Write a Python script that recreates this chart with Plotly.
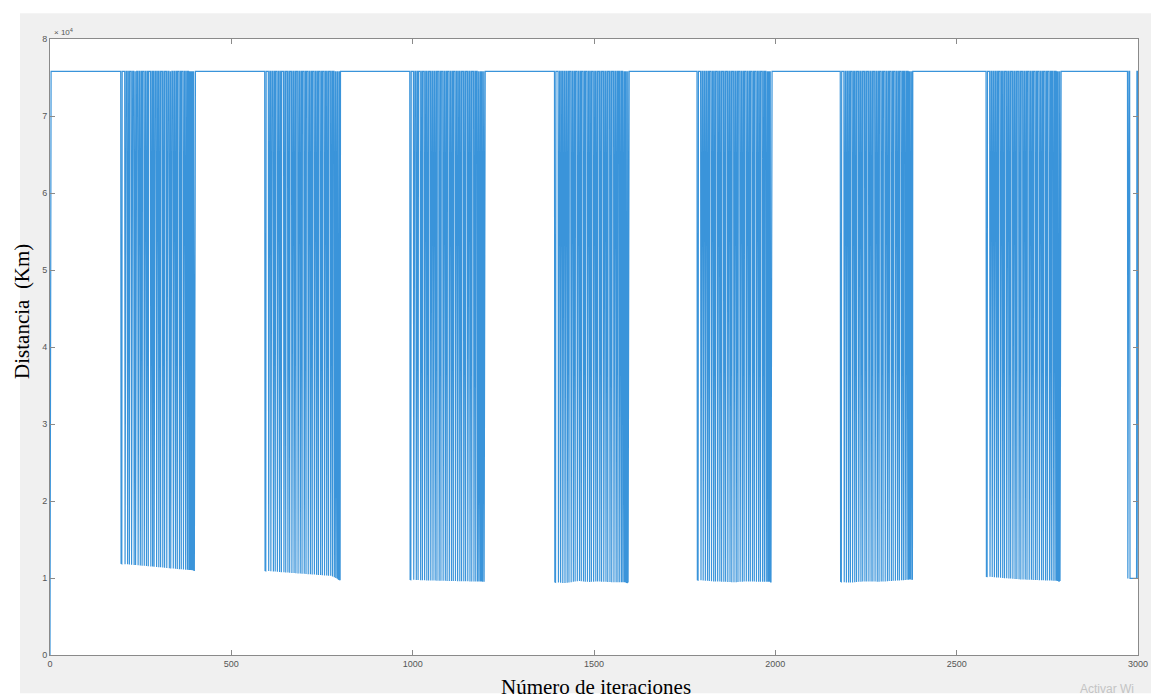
import plotly.graph_objects as go

# ---------------- data ----------------
n_iter = 3000
base_value = 75800          # distance plateau (Km)
start_value = 0             # value at iteration 0

b1_x = [196, 197, 198, 207, 214, 219, 225, 232, 236, 243, 249, 254, 260, 266, 271, 278, 283, 287, 294, 300, 305,
        311, 316, 322, 329, 333, 340, 346, 351, 357, 362, 368, 374, 379, 383, 386, 389, 392, 395, 397, 398]
b1_y = [11900, 11900, 11850, 11800, 11780, 11750, 11720, 11700, 11680, 11650, 11620, 11600, 11580, 11560, 11540,
        11500, 11480, 11460, 11420, 11400, 11380, 11350, 11320, 11300, 11280, 11250, 11230, 11200, 11180, 11150,
        11130, 11100, 11080, 11060, 11050, 11040, 11030, 11020, 11010, 11000, 11000]

b2_x = [593, 594, 595, 603, 609, 616, 621, 627, 633, 638, 645, 650, 656, 661, 667, 673, 678, 684, 690, 695, 701,
        706, 712, 718, 723, 729, 735, 740, 746, 751, 757, 763, 768, 774, 779, 784, 788, 792, 795, 797, 799, 800]
b2_y = [10950, 10950, 10920, 10900, 10880, 10850, 10830, 10800, 10780, 10760, 10740, 10720, 10700, 10680, 10660,
        10640, 10620, 10600, 10580, 10560, 10540, 10520, 10500, 10480, 10460, 10440, 10420, 10400, 10380, 10360,
        10340, 10320, 10300, 10280, 10200, 10100, 10000, 9900, 9850, 9800, 9800, 9800]

b3_x = [993, 994, 995, 1003, 1010, 1015, 1022, 1027, 1033, 1039, 1044, 1050, 1056, 1062, 1067, 1073, 1078, 1084,
        1090, 1095, 1101, 1107, 1112, 1118, 1124, 1130, 1135, 1141, 1146, 1152, 1158, 1163, 1169, 1174, 1179, 1183,
        1187, 1190, 1193, 1195, 1197]
b3_y = [9800, 9800, 9780, 9760, 9750, 9740, 9720, 9700, 9700, 9690, 9680, 9680, 9670, 9660, 9650, 9650, 9640,
        9640, 9630, 9620, 9620, 9610, 9600, 9600, 9590, 9590, 9580, 9580, 9570, 9570, 9560, 9560, 9550, 9550, 9540,
        9540, 9530, 9530, 9520, 9520, 9520]

b4_x = [1392, 1393, 1394, 1402, 1408, 1414, 1420, 1426, 1431, 1437, 1443, 1448, 1454, 1460, 1465, 1471, 1476, 1482,
        1488, 1493, 1499, 1505, 1510, 1516, 1521, 1527, 1533, 1538, 1544, 1549, 1555, 1561, 1566, 1571, 1576, 1580,
        1584, 1587, 1590, 1592, 1594]
b4_y = [9500, 9500, 9450, 9400, 9380, 9350, 9350, 9380, 9400, 9450, 9500, 9550, 9580, 9600, 9580, 9550, 9520,
        9500, 9480, 9500, 9520, 9550, 9560, 9540, 9520, 9500, 9500, 9480, 9470, 9460, 9460, 9450, 9450, 9450, 9440,
        9440, 9440, 9430, 9430, 9420, 9420]

b5_x = [1785, 1786, 1787, 1795, 1801, 1807, 1813, 1818, 1824, 1830, 1835, 1841, 1847, 1852, 1858, 1863, 1869, 1875,
        1880, 1886, 1892, 1897, 1903, 1909, 1914, 1920, 1926, 1931, 1937, 1942, 1948, 1954, 1959, 1965, 1970, 1975,
        1979, 1982, 1985, 1987, 1988]
b5_y = [9750, 9750, 9720, 9700, 9680, 9650, 9630, 9600, 9580, 9560, 9550, 9540, 9530, 9520, 9510, 9500, 9480,
        9470, 9460, 9450, 9460, 9480, 9500, 9520, 9540, 9550, 9560, 9550, 9540, 9530, 9520, 9520, 9510, 9510, 9500,
        9500, 9500, 9500, 9500, 9500, 9500]

b6_x = [2180, 2181, 2182, 2190, 2196, 2202, 2207, 2213, 2219, 2224, 2230, 2236, 2241, 2247, 2252, 2258, 2264, 2269,
        2275, 2281, 2286, 2292, 2297, 2303, 2309, 2314, 2320, 2325, 2331, 2337, 2342, 2348, 2353, 2358, 2363, 2367,
        2370, 2373, 2375, 2377, 2378]
b6_y = [9550, 9550, 9500, 9450, 9420, 9400, 9400, 9420, 9450, 9480, 9500, 9520, 9540, 9550, 9560, 9560, 9550,
        9540, 9530, 9520, 9520, 9530, 9540, 9560, 9580, 9600, 9620, 9640, 9650, 9660, 9680, 9700, 9720, 9740, 9760,
        9780, 9800, 9820, 9830, 9840, 9850]

b7_x = [2582, 2583, 2584, 2592, 2598, 2604, 2610, 2615, 2621, 2627, 2632, 2638, 2644, 2649, 2655, 2661, 2666, 2672,
        2677, 2683, 2689, 2694, 2700, 2706, 2711, 2717, 2722, 2728, 2734, 2739, 2745, 2750, 2756, 2761, 2766, 2771,
        2775, 2778, 2781, 2783, 2785]
b7_y = [10200, 10200, 10180, 10150, 10120, 10100, 10080, 10050, 10030, 10000, 9980, 9960, 9940, 9920, 9900, 9880,
        9860, 9840, 9820, 9800, 9790, 9780, 9770, 9760, 9750, 9740, 9730, 9720, 9710, 9700, 9690, 9680, 9670, 9660,
        9650, 9640, 9630, 9620, 9610, 9600, 9600]

b8_x = [2972, 2978, 2979, 2980, 2981, 2982, 2983, 2984, 2985, 2986, 2987, 2988, 2989, 2990, 2991, 2992, 2993, 2994,
        2995, 2996, 3000]
b8_y = [9950, 9950, 9950, 9950, 9950, 9950, 9950, 9950, 9950, 9950, 9950, 9950, 9950, 9950, 9950, 9950, 9950, 9950,
        9950, 9950, 9950]

x_ticks = [0, 500, 1000, 1500, 2000, 2500, 3000]
x_tick_labels = ["0", "500", "1000", "1500", "2000", "2500", "3000"]
y_ticks = [0, 10000, 20000, 30000, 40000, 50000, 60000, 70000, 80000]
y_tick_labels = ["0", "1", "2", "3", "4", "5", "6", "7", "8"]

# ---------------- build series ----------------
lows = {}
for bx, by in [(b1_x, b1_y), (b2_x, b2_y), (b3_x, b3_y), (b4_x, b4_y),
               (b5_x, b5_y), (b6_x, b6_y), (b7_x, b7_y), (b8_x, b8_y)]:
    for xi, yi in zip(bx, by):
        lows[xi] = yi

xs = list(range(0, n_iter + 1))
ys = []
for i in xs:
    if i == 0:
        ys.append(start_value)
    elif i in lows:
        ys.append(lows[i])
    else:
        ys.append(base_value)

# ---------------- figure ----------------
axis_col = "#8a8a8a"
tick_font = dict(family="Liberation Sans, Arial, sans-serif", size=9, color="#555555")

fig = go.Figure()
fig.add_trace(go.Scatter(x=xs, y=ys, mode="lines",
                         line=dict(color="#3a94da", width=1.2), showlegend=False,
                         hoverinfo="skip"))

fig.update_layout(
    width=1151, height=700,
    margin=dict(l=50, r=13, t=39, b=45, autoexpand=False),
    paper_bgcolor="white",
    plot_bgcolor="white",
    showlegend=False,
)

fig.update_xaxes(range=[0, 3000], tickvals=x_ticks, ticktext=x_tick_labels,
                 showgrid=False, zeroline=False, showline=True, linecolor=axis_col, linewidth=1,
                 mirror="ticks", ticks="inside", ticklen=5, tickcolor=axis_col,
                 tickfont=tick_font)
fig.update_yaxes(range=[0, 80000], tickvals=y_ticks, ticktext=y_tick_labels,
                 showgrid=False, zeroline=False, showline=True, linecolor=axis_col, linewidth=1,
                 mirror="ticks", ticks="inside", ticklen=5, tickcolor=axis_col,
                 tickfont=tick_font)

# MATLAB-like gray figure backdrop, with white axes area on top of it
fig.add_shape(type="rect", xref="paper", yref="paper",
              x0=-0.0276, x1=1.02, y0=-0.062, y1=1.042,
              fillcolor="#f0f0f0", line=dict(width=0), layer="below")
fig.add_shape(type="rect", xref="paper", yref="paper",
              x0=0, x1=1, y0=0, y1=1,
              fillcolor="white", line=dict(width=0), layer="below")

fig.add_annotation(text="× 10<sup>4</sup>", xref="paper", yref="paper", x=0.002, y=1.0,
                   xanchor="left", yanchor="bottom", showarrow=False,
                   font=dict(family="Liberation Sans, Arial, sans-serif", size=8, color="#555555"))

fig.add_annotation(text="Número de iteraciones", xref="paper", yref="paper", x=0.502, y=-0.052,
                   xanchor="center", yanchor="middle", showarrow=False,
                   font=dict(family="Liberation Serif, Times New Roman, serif", size=21, color="black"))

fig.add_annotation(text="Distancia  (Km)", xref="paper", yref="paper", x=-0.0257, y=0.557,
                   xanchor="center", yanchor="middle", showarrow=False, textangle=-90,
                   font=dict(family="Liberation Serif, Times New Roman, serif", size=21, color="black"))

fig.add_annotation(text="Activar Wi", xref="paper", yref="paper", x=0.945, y=-0.055,
                   xanchor="left", yanchor="middle", showarrow=False,
                   font=dict(family="Liberation Sans, Arial, sans-serif", size=12, color="#c4c4c4"))

fig.write_html("out.html")
